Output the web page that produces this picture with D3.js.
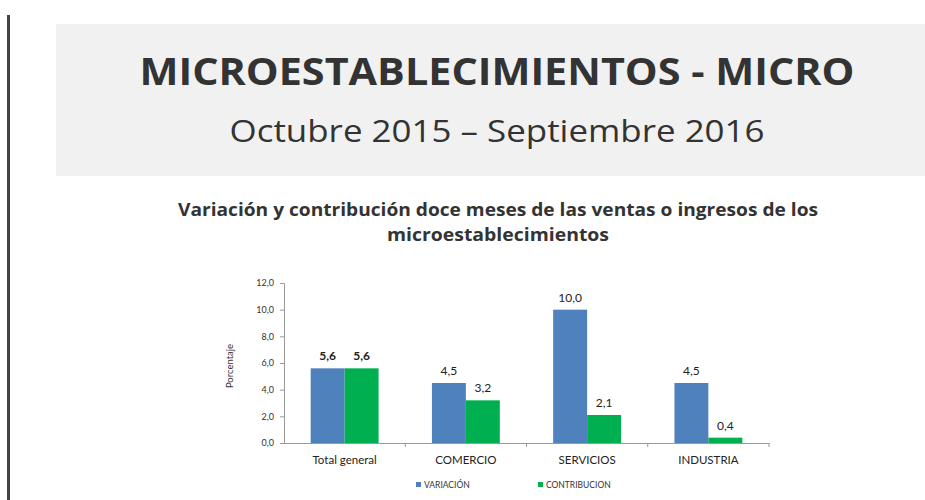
<!DOCTYPE html>
<html><head><meta charset="utf-8">
<script src="https://cdn.jsdelivr.net/npm/d3@7"></script>
<style>body{margin:0;background:#fff;}svg{display:block;}</style>
</head><body>
<svg id="c" width="925" height="500"></svg>
<script>
const categories = ["Total general", "COMERCIO", "SERVICIOS", "INDUSTRIA"];
const variacion = [5.6, 4.5, 10.0, 4.5];
const contribucion = [5.6, 3.2, 2.1, 0.4];
const seriesNames = ["VARIACIÓN", "CONTRIBUCION"];
const yTicks = [0, 2, 4, 6, 8, 10, 12];

const svg = d3.select("#c");
const chartFont = "Lato, 'Open Sans', sans-serif";
const colors = ["#4f81bd", "#00b050"];

// left dark rule
svg.append("rect").attr("x", 7).attr("y", 15).attr("width", 3).attr("height", 485).attr("fill", "#444");
// header panel
svg.append("rect").attr("x", 56).attr("y", 24).attr("width", 869).attr("height", 152).attr("fill", "#f1f1f1");
svg.append("text").attr("x", 497).attr("y", 85).attr("text-anchor", "middle")
  .attr("font-family", "'Open Sans', sans-serif").attr("font-weight", 700).attr("font-size", 37)
  .attr("fill", "#333").attr("textLength", 715).attr("lengthAdjust", "spacingAndGlyphs")
  .text("MICROESTABLECIMIENTOS - MICRO");
svg.append("text").attr("x", 497).attr("y", 142).attr("text-anchor", "middle")
  .attr("font-family", "'Open Sans', sans-serif").attr("font-size", 31)
  .attr("fill", "#333").attr("textLength", 535).attr("lengthAdjust", "spacingAndGlyphs")
  .text("Octubre 2015 – Septiembre 2016");

// chart title
svg.append("text").attr("x", 498).attr("y", 216).attr("text-anchor", "middle")
  .attr("font-family", "'Open Sans', sans-serif").attr("font-weight", 700).attr("font-size", 18)
  .attr("fill", "#333").attr("textLength", 640).attr("lengthAdjust", "spacingAndGlyphs")
  .text("Variación y contribución doce meses de las ventas o ingresos de los");
svg.append("text").attr("x", 498).attr("y", 241).attr("text-anchor", "middle")
  .attr("font-family", "'Open Sans', sans-serif").attr("font-weight", 700).attr("font-size", 18)
  .attr("fill", "#333").attr("textLength", 222).attr("lengthAdjust", "spacingAndGlyphs")
  .text("microestablecimientos");

const x0 = d3.scaleBand().domain(categories).range([284, 769]).paddingInner(0.44).paddingOuter(0.22);
const x1 = d3.scaleBand().domain(seriesNames).range([0, x0.bandwidth()]);
const y = d3.scaleLinear().domain([0, 12]).range([443, 283]);

const fmt = d => d.toFixed(1).replace(".", ",");

// y axis
const yAxis = svg.append("g").attr("transform", "translate(284,0)")
  .call(d3.axisLeft(y).tickValues(yTicks).tickFormat(fmt).tickSize(4).tickPadding(6));
yAxis.select(".domain").attr("stroke", "#999");
yAxis.selectAll(".tick line").attr("stroke", "#999");
yAxis.selectAll(".tick text").attr("font-family", chartFont).attr("font-size", 9).attr("fill", "#333");

// x axis
const xOuter = d3.scaleBand().domain(categories).range([284, 769]);
const xAxis = svg.append("g").attr("transform", "translate(0,443)")
  .call(d3.axisBottom(xOuter).tickSize(0).tickPadding(13));
xAxis.select(".domain").attr("stroke", "#999");
xAxis.selectAll(".tick text").attr("font-family", chartFont).attr("font-size", 11.5).attr("fill", "#222");
// boundary tick marks between categories
svg.append("g").selectAll("line").data(categories.slice(1).concat(["end"]))
  .join("line")
  .attr("x1", (d, i) => i < 3 ? xOuter(d) : 769).attr("x2", (d, i) => i < 3 ? xOuter(d) : 769)
  .attr("y1", 443).attr("y2", 447).attr("stroke", "#999");

// bars
const data = categories.map((c, i) => ({ c, vals: [variacion[i], contribucion[i]] }));
const groups = svg.append("g").selectAll("g").data(data).join("g")
  .attr("transform", d => `translate(${x0(d.c)},0)`);
groups.selectAll("rect").data(d => d.vals.map((v, j) => ({ v, j })))
  .join("rect")
  .attr("x", d => x1(seriesNames[d.j])).attr("width", x1.bandwidth())
  .attr("y", d => y(d.v)).attr("height", d => 443 - y(d.v))
  .attr("fill", d => colors[d.j]);
groups.each(function (d, gi) {
  d3.select(this).selectAll("text.v").data(d.vals.map((v, j) => ({ v, j }))).join("text")
    .attr("class", "v")
    .attr("x", e => x1(seriesNames[e.j]) + x1.bandwidth() / 2)
    .attr("y", e => y(e.v) - 8)
    .attr("text-anchor", "middle").attr("font-family", chartFont)
    .attr("font-size", 12).attr("font-weight", gi === 0 ? 700 : 400).attr("fill", "#222")
    .text(e => fmt(e.v));
});

// y label
svg.append("text").attr("transform", "translate(233,366) rotate(-90)").attr("text-anchor", "middle")
  .attr("font-family", chartFont).attr("font-size", 9.5).attr("fill", "#333").text("Porcentaje");

// legend
const legendX = [416, 538];
seriesNames.forEach((n, i) => {
  svg.append("rect").attr("x", legendX[i]).attr("y", 482).attr("width", 5).attr("height", 5).attr("fill", colors[i]);
  svg.append("text").attr("x", legendX[i] + 8).attr("y", 488).attr("font-family", chartFont)
    .attr("font-size", 8.5).attr("fill", "#333").text(n);
});
</script>
</body></html>
